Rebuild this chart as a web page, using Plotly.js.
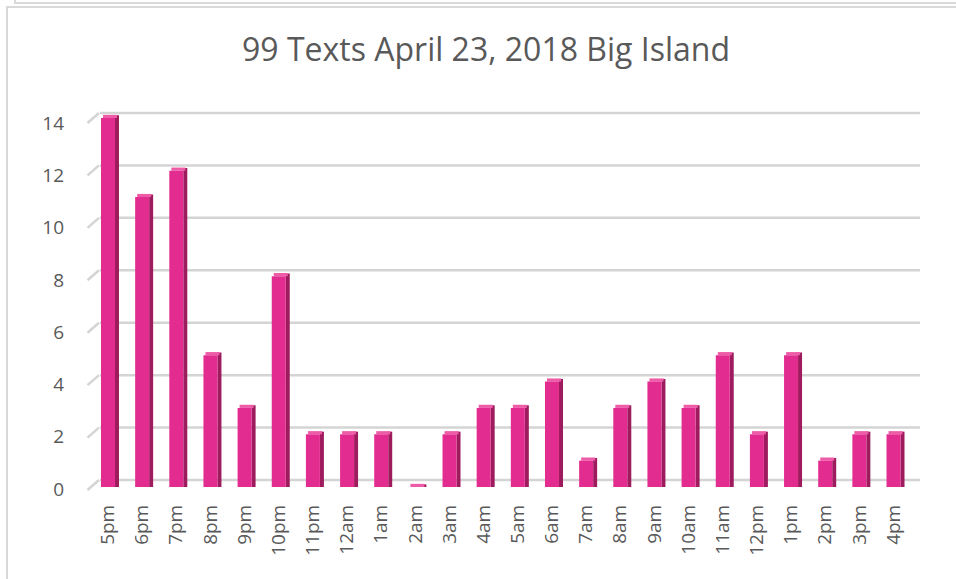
<!DOCTYPE html>
<html>
<head>
<meta charset="utf-8">
<script src="https://cdn.plot.ly/plotly-3.0.1.min.js"></script>
<style>
  html, body { margin: 0; padding: 0; background: #ffffff; }
  #wrap { position: relative; width: 956px; height: 579px; overflow: hidden; background: #fff; }
  #chart { position: absolute; left: 0; top: 0; width: 956px; height: 579px; }
  .ln { position: absolute; background: #D9D9D9; }
  #upper { position: absolute; left: 14px; top: -10px; width: 960px; height: 12px;
           border-left: 2px solid #D9D9D9; border-bottom: 2px solid #D9D9D9; }
</style>
</head>
<body>
<div id="wrap">
  <div id="chart"></div>
  <div id="upper"></div>
  <div class="ln" style="left:6px; top:6px; width:2px; height:573px;"></div>
  <div class="ln" style="left:6px; top:6px; width:950px; height:2px;"></div>
</div>
<script>
// ---- data ----
const hours = ["5pm","6pm","7pm","8pm","9pm","10pm","11pm","12am","1am","2am","3am","4am",
               "5am","6am","7am","8am","9am","10am","11am","12pm","1pm","2pm","3pm","4pm"];
const texts = [14, 11, 12, 5, 3, 8, 2, 2, 2, 0, 2, 3,
               3, 4, 1, 3, 4, 3, 5, 2, 5, 1, 2, 2];
const yTicks = [0, 2, 4, 6, 8, 10, 12, 14];
const chartTitle = "99 Texts April 23, 2018 Big Island";

// ---- styling / geometry ----
const FONT = "Open Sans, Liberation Sans, sans-serif";
const TXT = "#595959";
const front = "#E32C8F", side = "#9E1C5E", topc = "#EE5CA8";
const plotL = 86, plotR = 925, W = plotR - plotL;
const gridPx = 26.214;         // px per value unit on back wall

const sideLift = texts.map(v => v + 0.1);
const topEnd = texts.map(v => 0.12);

const traces = [
  { type: "bar", x: hours, y: sideLift, base: 0, yaxis: "y",
    offset: 0.205, width: 0.117, marker: { color: side, line: { width: 0 } },
    hoverinfo: "skip", showlegend: false },
  { type: "bar", x: hours, y: topEnd, base: texts, yaxis: "y",
    offset: -0.146, width: 0.41, marker: { color: topc, line: { width: 0 } },
    hoverinfo: "skip", showlegend: false },
  { type: "bar", x: hours, y: texts, yaxis: "y",
    offset: -0.205, width: 0.41, marker: { color: front, line: { width: 0 } },
    showlegend: false },
  { type: "scatter", mode: "markers", x: [hours[0]], y: [0], yaxis: "y3",
    marker: { opacity: 0 }, hoverinfo: "skip", showlegend: false }
];

const shapes = [];
yTicks.forEach(v => {
  shapes.push({ type: "line", xref: "paper", yref: "y2", layer: "below",
    x0: (100 - plotL) / W, x1: (920 - plotL) / W, y0: v, y1: v,
    line: { color: "#D4D4D4", width: 2.5 } });
  shapes.push({ type: "line", xref: "paper", yref: "y2", layer: "below",
    x0: 1.5 / W, x1: (99 - plotL) / W, y0: v - 10 / gridPx, y1: v,
    line: { color: "#D4D4D4", width: 2.5 } });
});

const layout = {
  width: 956, height: 579,
  paper_bgcolor: "rgba(0,0,0,0)", plot_bgcolor: "rgba(0,0,0,0)",
  margin: { l: plotL, r: 956 - plotR, t: 100, b: 79, pad: 0 },
  barmode: "overlay",
  title: { text: chartTitle, font: { family: FONT, size: 32, color: TXT },
           xref: "container", yref: "container", x: 486 / 956, xanchor: "center",
           y: 1 - 50 / 579, yanchor: "middle" },
  xaxis: { type: "category", categoryorder: "array", categoryarray: hours,
           range: [-0.644, 23.922], tickangle: -90,
           tickfont: { family: FONT, size: 19, color: TXT },
           showgrid: false, zeroline: false, showline: false, ticks: "" },
  yaxis: { range: [-0.493, 14.683], visible: false, fixedrange: true },
  yaxis2: { overlaying: "y", range: [-0.763, 14.496], visible: false },
  yaxis3: { overlaying: "y", range: [-0.421, 14.88], tickvals: yTicks,
            tickfont: { family: FONT, size: 19, color: TXT },
            showgrid: false, zeroline: false, showline: false, ticks: "",
            ticklabelstandoff: 21 },
  shapes: shapes
};

Plotly.newPlot("chart", traces, layout, { staticPlot: true, displayModeBar: false });
</script>
</body>
</html>
